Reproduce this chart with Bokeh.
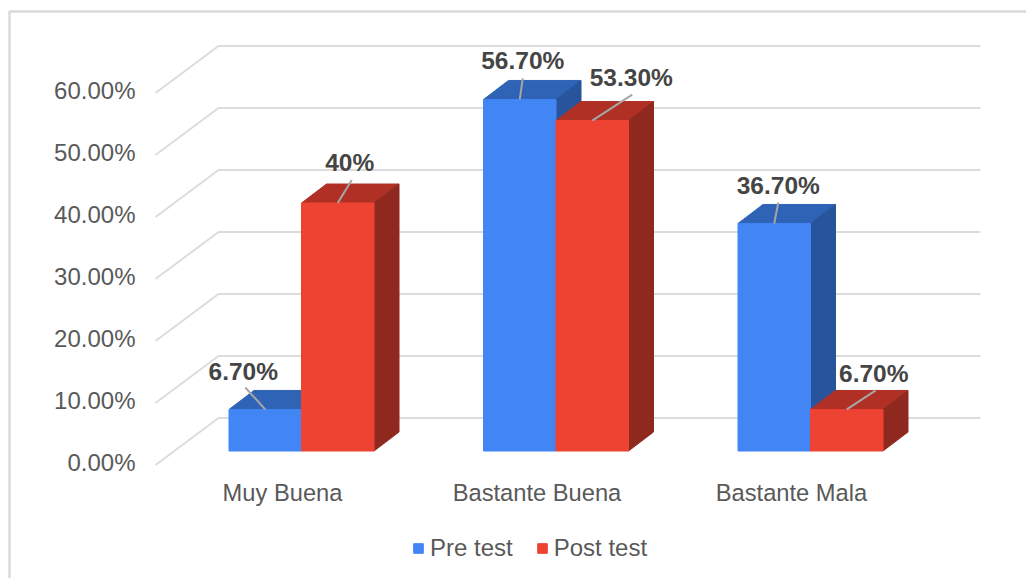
from bokeh.embed import file_html
from bokeh.models import Legend, LegendItem, Range1d
from bokeh.plotting import figure
from bokeh.resources import INLINE
from bokeh.core.properties import value
import numpy as np

# Survey results by rating, in percent
categories = ["Muy Buena", "Bastante Buena", "Bastante Mala"]
pre_test = [6.7, 56.7, 36.7]
post_test = [40.0, 53.3, 6.7]
pre_labels = ["6.70%", "56.70%", "36.70%"]
post_labels = ["40%", "53.30%", "6.70%"]
y_ticks = [0, 10, 20, 30, 40, 50, 60]
y_tick_labels = ["0.00%", "10.00%", "20.00%", "30.00%", "40.00%", "50.00%", "60.00%"]
series_names = ["Pre test", "Post test"]

# Canvas and scale: one category step and one percent, in screen pixels
W, H = 1026, 578
PX_PER_CAT = 254.5
PX_PER_PCT = 6.2
ORIGIN_X, ORIGIN_Y = 301.0, 450.5
FONT = "Liberation Sans"


def dx(px):
    return px / PX_PER_CAT


def dy(px):
    return px / PX_PER_PCT


BAR_W = dx(72.5)
DEPTH_X, DEPTH_Y = dx(25), dy(19)

p = figure(
    width=W, height=H, output_backend="svg", toolbar_location=None,
    x_range=Range1d(-ORIGIN_X / PX_PER_CAT, (W - ORIGIN_X) / PX_PER_CAT),
    y_range=Range1d(-(H - ORIGIN_Y) / PX_PER_PCT, ORIGIN_Y / PX_PER_PCT),
    min_border=0, outline_line_color=None, background_fill_color="white",
    border_fill_color="white",
)
p.axis.visible = False
p.grid.visible = False

# Panel frame: left and top edges only
x_min, y_max = p.x_range.start, p.y_range.end
frame_x = x_min + dx(9)
frame_y = y_max - dy(11)
p.line([frame_x, frame_x, p.x_range.end], [p.y_range.start, frame_y, frame_y],
       line_color="#d9d9d9", line_width=2.5)

# Back wall gridlines and their slanted run along the side wall
wall_left = dx(218 - ORIGIN_X)
wall_right = dx(980 - ORIGIN_X)
wall_front = dx(155 - ORIGIN_X)
back_rise = dy(33)
front_drop = dy(14)
ticks = np.array(y_ticks, dtype=float)
p.multi_line(
    xs=[[wall_front, wall_left, wall_right] for _ in y_ticks],
    ys=[[t - front_drop, t + back_rise, t + back_rise] for t in ticks],
    line_color="#dcdcdc", line_width=2,
)

# Value axis labels
p.text(x=[dx(135 - ORIGIN_X)] * len(y_ticks), y=ticks - dy(11.5), text=y_tick_labels,
       text_font=value(FONT), text_font_size="24px", text_color="#595959",
       text_align="right", text_baseline="middle")

# Category labels
p.text(x=[0, 1, 2], y=[dy(-42)] * 3, text=categories, x_offset=[-19, -19, -19],
       text_font=value(FONT), text_font_size="23.7px", text_color="#595959",
       text_align="center", text_baseline="middle")


def draw_bar(left, val, front, top, side):
    right = left + BAR_W
    p.patch([left, right, right + DEPTH_X, left + DEPTH_X],
            [val, val, val + DEPTH_Y, val + DEPTH_Y], fill_color=top, line_color=top)
    p.patch([right, right + DEPTH_X, right + DEPTH_X, right],
            [val, val + DEPTH_Y, DEPTH_Y, 0], fill_color=side, line_color=side)
    return p.quad(left=[left], right=[right], bottom=[0], top=[val],
                  fill_color=front, line_color=front)


legend_refs = []
for i, (a, b) in enumerate(zip(pre_test, post_test)):
    r1 = draw_bar(i - BAR_W, a, "#4285f4", "#2f63b5", "#28549c")
    r2 = draw_bar(i, b, "#ee4233", "#b03026", "#8f2920")
    if i == 0:
        legend_refs = [r1, r2]

# Value labels with leader lines; offsets are pixels from each bar's top centre
centres = np.array([i - BAR_W / 2 for i in range(3)] + [i + BAR_W / 2 for i in range(3)])
tops = np.array(pre_test + post_test)
texts = pre_labels + post_labels
label_dx = [-22, 3, 4, 12, 39, 27]
label_dy = [-38, -39, -38, -41, -43, -36]
leader_dx = [-20, 3, 4, 14, 40, 29]
leader_dy = [-22, -21, -21, -23, -26, -19]

p.segment(x0=centres, y0=tops,
          x1=centres + np.array(leader_dx) / PX_PER_CAT,
          y1=tops - np.array(leader_dy) / PX_PER_PCT,
          line_color="#a6a6a6", line_width=2)
p.text(x=centres, y=tops, text=texts, x_offset=label_dx, y_offset=label_dy,
       text_font=value(FONT), text_font_style="bold", text_font_size="24.5px",
       text_color="#454545", text_align="center", text_baseline="middle")

legend = Legend(
    items=[LegendItem(label=series_names[0], renderers=[legend_refs[0]]),
           LegendItem(label=series_names[1], renderers=[legend_refs[1]])],
    location=(412, 16), orientation="horizontal",
    glyph_width=12, glyph_height=12, spacing=23, padding=0, margin=0, label_standoff=6,
    border_line_color=None, background_fill_alpha=0,
    label_text_font=FONT, label_text_font_size="24px", label_text_color="#595959",
)
p.add_layout(legend, "center")

open("out.html", "w").write(file_html(p, INLINE))
